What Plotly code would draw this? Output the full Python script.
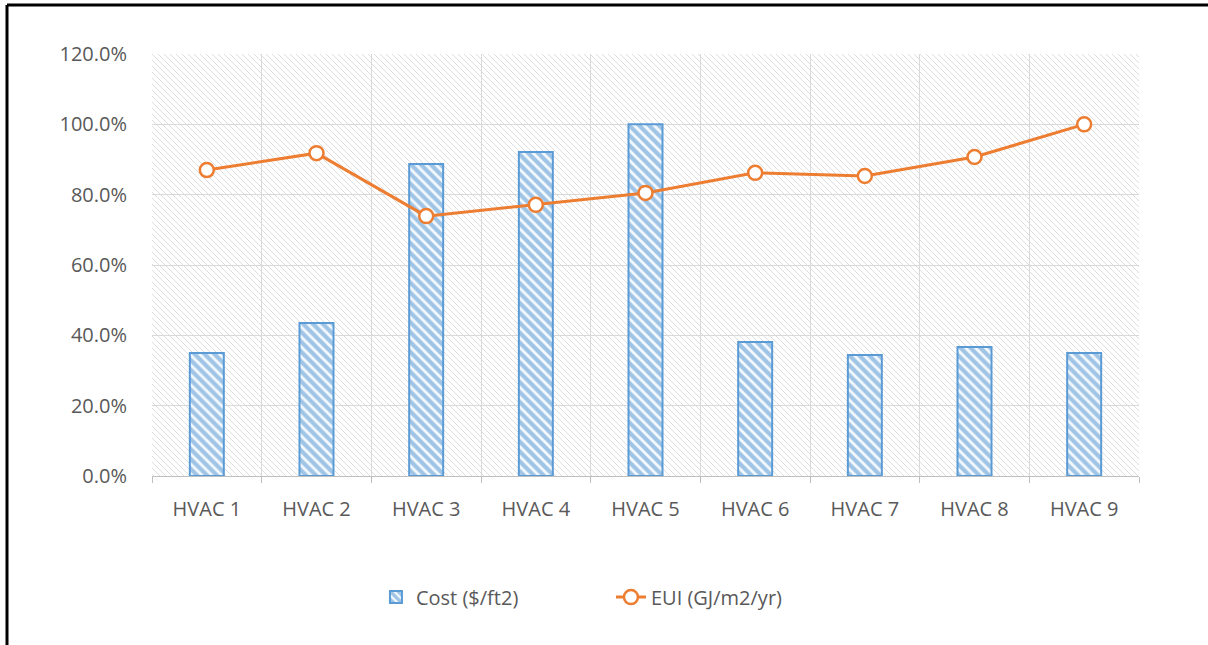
import base64
import plotly.graph_objects as go

# Chart data
systems = ["HVAC 1", "HVAC 2", "HVAC 3", "HVAC 4", "HVAC 5",
           "HVAC 6", "HVAC 7", "HVAC 8", "HVAC 9"]
cost = [0.350, 0.435, 0.887, 0.921, 1.000, 0.381, 0.344, 0.367, 0.350]
eui = [0.870, 0.918, 0.739, 0.771, 0.805, 0.862, 0.853, 0.907, 1.000]
y_ticks = [0, 0.2, 0.4, 0.6, 0.8, 1.0, 1.2]

W, H = 1208, 645
L, R, T, B = 152, 69, 54, 169
PW, PH = W - L - R, H - T - B

BLUE = "#5B9BD5"
ORANGE = "#ED7D31"
TXT = "#595959"
GRID = "#d9d9d9"
FONT = "Open Sans"

# light diagonal hatch for the plotting area
svg = f"""<svg xmlns='http://www.w3.org/2000/svg' width='{PW}' height='{PH}'>
<defs><pattern id='p' patternUnits='userSpaceOnUse' width='6' height='6'>
<path d='M-1,-1 L7,7 M-1,5 L1,7 M5,-1 L7,1' stroke='#dedede' stroke-width='1'/>
</pattern></defs>
<rect width='{PW}' height='{PH}' fill='white'/>
<rect width='{PW}' height='{PH}' fill='url(#p)'/>
</svg>"""
hatch_uri = "data:image/svg+xml;base64," + base64.b64encode(svg.encode()).decode()

fig = go.Figure()
fig.add_trace(go.Bar(
    x=systems, y=cost, name="Cost ($/ft2)",
    marker=dict(
        color="white",
        line=dict(color=BLUE, width=2),
        pattern=dict(shape="\\", fgcolor="#4a8fd0", bgcolor="#f4f9fd",
                     size=7, solidity=0.6),
    ),
))
fig.add_trace(go.Scatter(
    x=systems, y=eui, name="EUI (GJ/m2/yr)", mode="lines+markers",
    line=dict(color=ORANGE, width=3),
    marker=dict(symbol="circle", size=14, color="white",
                line=dict(color=ORANGE, width=2.5)),
))

fig.update_layout(
    width=W, height=H,
    margin=dict(l=L, r=R, t=T, b=B, pad=0),
    paper_bgcolor="white", plot_bgcolor="white",
    font=dict(family=FONT, size=20, color=TXT),
    bargap=0.69,
    showlegend=True,
    legend=dict(orientation="h", x=0.465, xanchor="center", y=-0.287,
                yanchor="middle", font=dict(size=20, color=TXT),
                traceorder="normal", entrywidth=190, entrywidthmode="pixels"),
    images=[dict(source=hatch_uri, xref="paper", yref="paper", x=0, y=1,
                 sizex=1, sizey=1, xanchor="left", yanchor="top",
                 sizing="stretch", layer="below")],
    shapes=[
        # frame around the figure (top and left edges)
        dict(type="line", xref="paper", yref="paper",
             x0=(7 - L) / PW, x1=(W + 5 - L) / PW,
             y0=(H - B - 5) / PH, y1=(H - B - 5) / PH,
             line=dict(color="black", width=3)),
        dict(type="line", xref="paper", yref="paper",
             x0=(7 - L) / PW, x1=(7 - L) / PW,
             y0=(H - B - 5) / PH, y1=(H - B - H - 10) / PH,
             line=dict(color="black", width=3)),
    ],
)

fig.update_xaxes(
    type="category", tickson="boundaries",
    showgrid=True, gridcolor=GRID, gridwidth=1,
    showline=True, linecolor="#bfbfbf", linewidth=1,
    ticks="outside", ticklen=6, tickcolor="#bfbfbf",
    ticklabelstandoff=15,
    tickfont=dict(size=20, color=TXT), range=[-0.5, 8.5],
)
fig.update_yaxes(
    range=[0, 1.2], tickvals=y_ticks, tickformat=".1%",
    showgrid=True, gridcolor=GRID, gridwidth=1,
    zeroline=False, showline=False, ticks="", ticklabelstandoff=24,
    tickfont=dict(size=20, color=TXT),
)

fig.write_html("out.html")
